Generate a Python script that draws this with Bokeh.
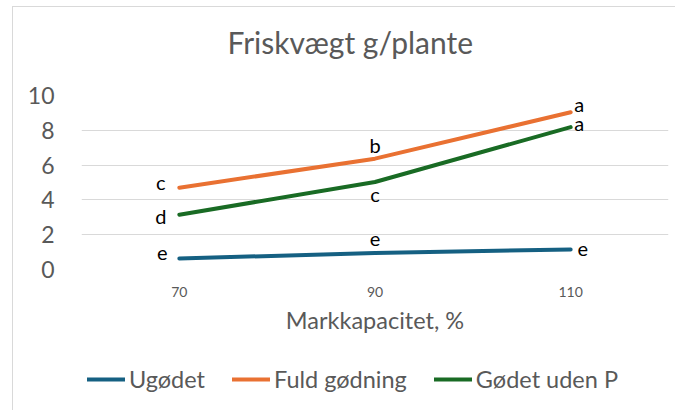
from bokeh.plotting import figure
from bokeh.layouts import column
from bokeh.models import FactorRange, Range1d, Legend, LegendItem, ColumnDataSource, FixedTicker, Title
from bokeh.core.properties import value
from bokeh.embed import file_html
from bokeh.resources import INLINE

# ---- data ----
categories = ["70", "90", "110"]
ugodet = [0.63, 0.95, 1.15]
fuld_godning = [4.70, 6.37, 9.04]
godet_uden_p = [3.15, 5.03, 8.18]
ugodet_letters = ["e", "e", "e"]
fuld_letters = ["c", "b", "a"]
uden_p_letters = ["d", "c", "a"]
y_ticks = [0, 2, 4, 6, 8, 10]
series_names = ["Ugødet", "Fuld gødning", "Gødet uden P"]

# ---- style ----
colors = ["#156082", "#E97132", "#196B24"]
GRAY = "#595959"
FONT = "Lato"
# label offsets (screen px) per point: (dx, dy)
label_offsets = [
    [(-17, -6), (0, -14), (12, -0.5)],
    [(-18.5, -5.6), (0, -13.3), (8.5, -8)],
    [(-18.6, 1.5), (0, 12), (8.5, -4)],
]

W = 662
HM = 338   # main chart height
HL = 65    # legend strip height

p = figure(width=W, height=HM, x_range=FactorRange(*categories), y_range=Range1d(0, 10),
           output_backend="svg", toolbar_location=None,
           min_border_left=68, min_border_right=7, min_border_top=88, min_border_bottom=HM - 88 - 174)
p.outline_line_color = None
p.background_fill_color = "white"
p.border_fill_color = "white"

# spacer between title and frame (closest to frame)
p.add_layout(Title(text=" ", text_font_size="1px", standoff=33), "above")

p.title.text = "Friskvægt g/plante"
p.title.align = "left"
p.title.offset = 146
p.title.vertical_align = "bottom"
p.title.text_font = FONT
p.title.text_font_size = "30px"
p.title.text_font_style = "normal"
p.title.text_color = GRAY
p.title.standoff = 0

p.xgrid.grid_line_color = None
p.ygrid.grid_line_color = "#d9d9d9"
p.ygrid.grid_line_width = 1

p.yaxis.ticker = FixedTicker(ticks=y_ticks)
for ax in (p.xaxis[0], p.yaxis[0]):
    ax.axis_line_color = None
    ax.major_tick_line_color = None
    ax.minor_tick_line_color = None
    ax.major_tick_out = 0
    ax.major_tick_in = 0
    ax.major_label_text_color = GRAY
    ax.major_label_text_font = FONT
p.yaxis.major_label_text_font_size = "23px"
p.yaxis.major_label_standoff = 27
p.xaxis.major_label_text_font_size = "14px"
p.xaxis.major_label_standoff = 17
p.xaxis.axis_label = "Markkapacitet, %"
p.xaxis.axis_label_text_font = FONT
p.xaxis.axis_label_text_font_size = "23.5px"
p.xaxis.axis_label_text_font_style = "normal"
p.xaxis.axis_label_text_color = GRAY
p.xaxis.axis_label_standoff = 6

all_values = [ugodet, fuld_godning, godet_uden_p]
all_letters = [ugodet_letters, fuld_letters, uden_p_letters]
for vals, letters, col, offs in zip(all_values, all_letters, colors, label_offsets):
    p.line(x=categories, y=vals, line_color=col, line_width=4, line_cap="round", line_join="round")
    src = ColumnDataSource(dict(x=categories, y=vals, text=letters,
                                dx=[o[0] for o in offs], dy=[o[1] for o in offs]))
    p.text(x="x", y="y", text="text", x_offset="dx", y_offset="dy", source=src,
           text_align="center", text_baseline="middle", text_font=value(FONT),
           text_font_size="20px", text_color="black")

# ---- legend strip (series drawn out of view, only their legend glyphs show) ----
pl = figure(width=W, height=HL, x_range=p.x_range, y_range=Range1d(20, 21),
            output_backend="svg", toolbar_location=None,
            x_axis_location=None, y_axis_location=None,
            min_border_left=0, min_border_right=0, min_border_top=0, min_border_bottom=0)
pl.outline_line_color = None
pl.xgrid.grid_line_color = None
pl.ygrid.grid_line_color = None
items = []
for name, vals, col in zip(series_names, all_values, colors):
    r = pl.line(x=categories, y=vals, line_color=col, line_width=4, line_cap="round")
    items.append(LegendItem(label=name, renderers=[r]))
legend = Legend(items=items, orientation="horizontal", location=(6, 17),
                glyph_width=38, glyph_height=20, label_standoff=4, spacing=27, padding=0,
                border_line_color=None, background_fill_alpha=0,
                label_text_font=FONT, label_text_font_size="23.5px", label_text_color=GRAY)
pl.add_layout(legend, "center")

layout = column(p, pl, spacing=0)
layout.styles = {"position": "relative", "left": "12px", "top": "6px",
                 "border-left": "1px solid #d9d9d9", "border-top": "1px solid #d9d9d9"}

open("out.html", "w").write(file_html(layout, INLINE))
